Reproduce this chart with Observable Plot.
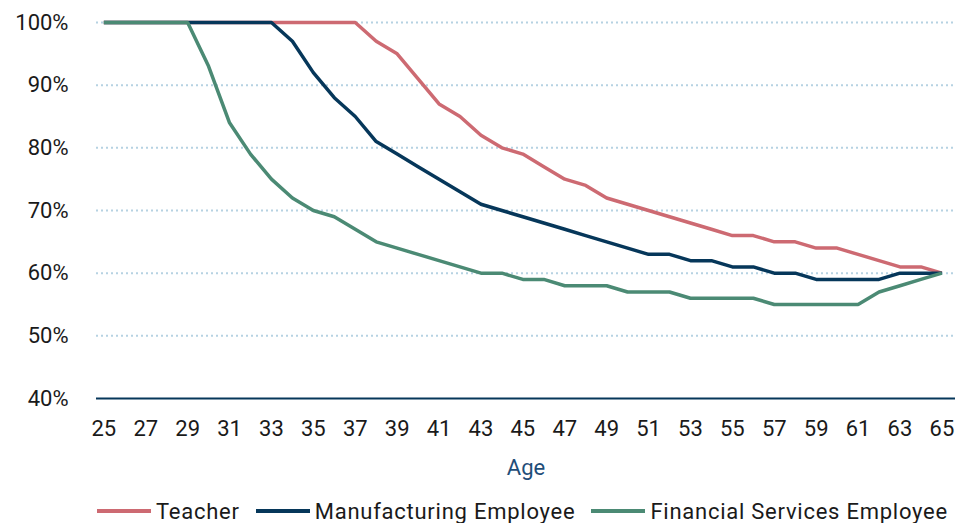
<!DOCTYPE html>
<html>
<head>
<meta charset="utf-8">
<script src="https://cdn.jsdelivr.net/npm/d3@7"></script>
<script src="https://cdn.jsdelivr.net/npm/@observablehq/plot@0.6"></script>
<style>
  html, body { margin: 0; padding: 0; background: #fff; }
  body { width: 972px; height: 523px; overflow: hidden; font-family: Roboto, sans-serif; }
  #legend { display: flex; align-items: center; height: 30px; margin-top: 4px; padding-left: 97px; font-size: 22px; color: #1a1a1a; letter-spacing: 0.75px; }
  #legend .item { display: flex; align-items: center; margin-right: 16px; }
  #legend .sw { width: 54px; height: 4px; margin-right: 5px; }
</style>
</head>
<body>
<div id="chart"></div>
<div id="legend"></div>
<script>
const ages = d3.range(25, 66);
const series = ["Teacher", "Manufacturing Employee", "Financial Services Employee"];
const colors = ["#cd6a72", "#06375a", "#4b8a74"];
const teacher = [100,100,100,100,100,100,100,100,100,100,100,100,100,
  97,95,91,87,85,82,80,79,77,75,74,72,71,70,69,68,67,66,66,65,65,64,64,63,62,61,61,60];
const manufacturing = [100,100,100,100,100,100,100,100,100,
  97,92,88,85,81,79,77,75,73,71,70,69,68,67,66,65,64,63,63,62,62,61,61,60,60,59,59,59,59,60,60,60];
const financial = [100,100,100,100,100,
  93,84,79,75,72,70,69,67,65,64,63,62,61,60,60,59,59,58,58,58,57,57,57,56,56,56,56,55,55,55,55,55,57,58,59,60];
const xTicks = d3.range(25, 66, 2);
const yTicks = [40, 50, 60, 70, 80, 90, 100];

const valuesBySeries = [teacher, manufacturing, financial];
const data = series.flatMap((s, i) => ages.map((a, j) => ({series: s, age: a, value: valuesBySeries[i][j]})));

const plot = Plot.plot({
  width: 972,
  height: 492,
  marginLeft: 96,
  marginRight: 17,
  marginTop: 22,
  marginBottom: 94,
  style: {fontFamily: "Roboto, sans-serif", fontSize: "22px", color: "#1a1a1a", background: "#fff"},
  x: {domain: [24.65, 65.65]},
  y: {domain: [40, 100]},
  color: {domain: series, range: colors},
  marks: [
    Plot.gridY(yTicks.filter(d => d !== 40), {stroke: "#b6d2e2", strokeOpacity: 1, strokeWidth: 2, strokeDasharray: "2,3"}),
    Plot.ruleY([40], {stroke: "#06375a", strokeWidth: 2}),
    Plot.axisY(yTicks, {tickSize: 0, tickPadding: 28, tickFormat: d => d + "%", label: null, fontSize: 22}),
    Plot.axisX(xTicks, {tickSize: 0, tickPadding: 22, tickFormat: d => String(d), label: null, fontSize: 22}),
    Plot.text(["Age"], {frameAnchor: "bottom", dy: 69, lineAnchor: "middle", fill: "#1f4e79", fontSize: 22}),
    Plot.line(data, {x: "age", y: "value", z: "series", stroke: "series", strokeWidth: 3.5, strokeLinejoin: "miter", strokeLinecap: "butt"})
  ]
});
document.getElementById("chart").appendChild(plot);

const legend = document.getElementById("legend");
series.forEach((s, i) => {
  const item = document.createElement("div");
  item.className = "item";
  const sw = document.createElement("span");
  sw.className = "sw";
  sw.style.background = colors[i];
  const label = document.createElement("span");
  label.textContent = s;
  item.appendChild(sw);
  item.appendChild(label);
  legend.appendChild(item);
});
</script>
</body>
</html>
